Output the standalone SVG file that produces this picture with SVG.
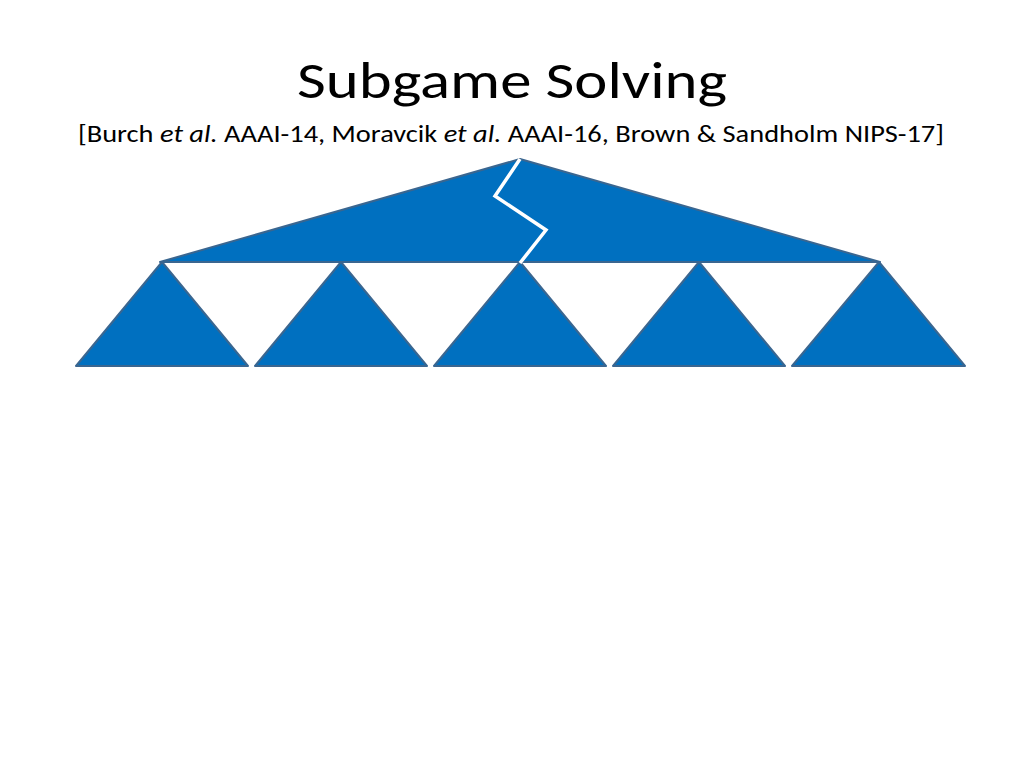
<svg xmlns="http://www.w3.org/2000/svg" width="1024" height="768" viewBox="0 0 1024 768">
<style>
.t{fill:#0070C0;stroke:#3A6690;stroke-width:2;stroke-linejoin:round}
text{font-family:Carlito,"Open Sans","Liberation Sans",sans-serif;fill:#000}
</style>
<rect width="1024" height="768" fill="#fff"/>
<text x="512" y="98" font-size="52" text-anchor="middle" textLength="430" lengthAdjust="spacingAndGlyphs">Subgame Solving</text>
<text x="511" y="142" font-size="24" text-anchor="middle" textLength="866" lengthAdjust="spacingAndGlyphs">[Burch <tspan font-style="italic">et al.</tspan> AAAI-14, Moravcik <tspan font-style="italic">et al.</tspan> AAAI-16, Brown &amp; Sandholm NIPS-17]</text>
<g id="top"><polygon class="t" points="160,262 520,159 880,262"/></g>
<g id="s1"><polygon class="t" points="76,366 162,262 248,366"/></g>
<g id="s2"><polygon class="t" points="255,366 341,262 427,366"/></g>
<g id="s3"><polygon class="t" points="434,366 520,262 606,366"/></g>
<g id="s4"><polygon class="t" points="613,366 699,262 785,366"/></g>
<g id="s5"><polygon class="t" points="792,366 879,262 965,366"/></g>
<g id="connectors"><polyline points="520,159 495,196 546,230 520,263" fill="none" stroke="#fff" stroke-width="3.5"/></g>
</svg>
